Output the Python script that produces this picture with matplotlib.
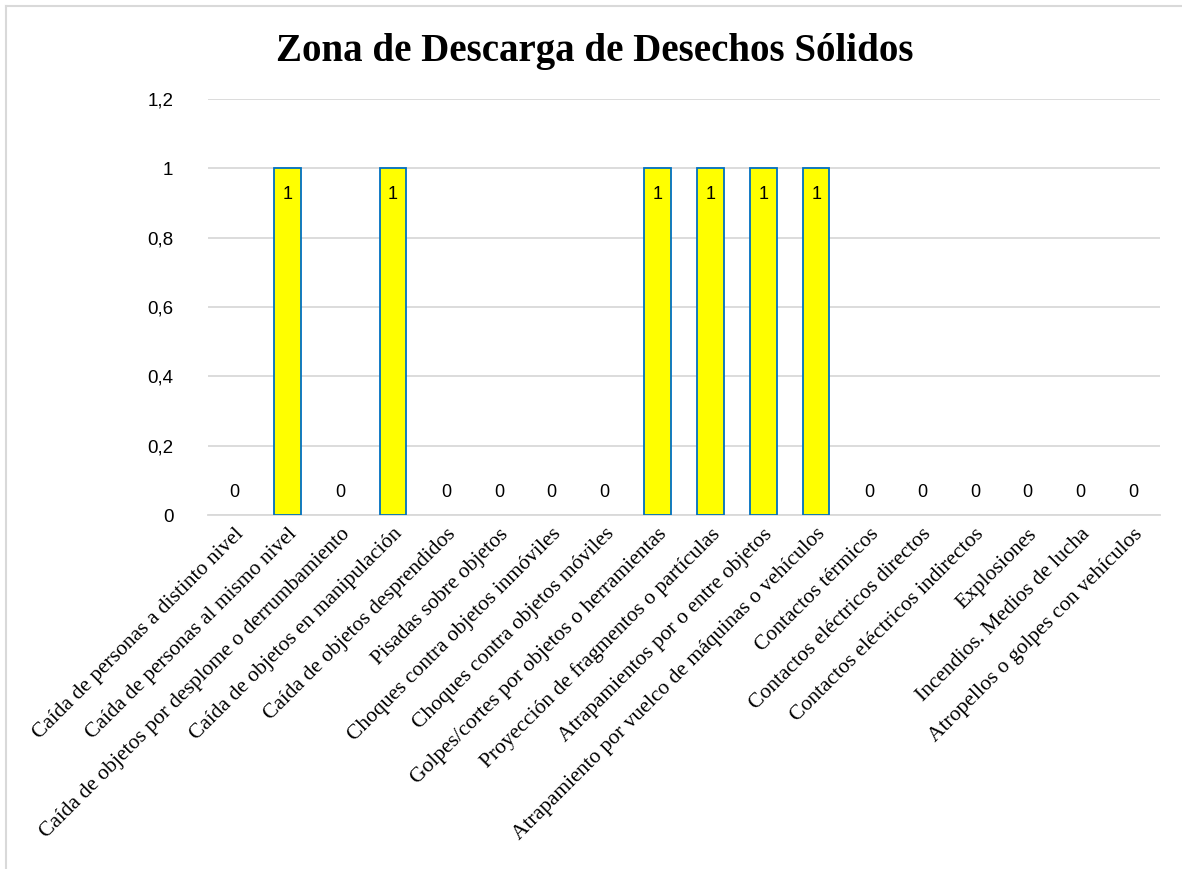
import matplotlib
matplotlib.use("Agg")
import matplotlib.pyplot as plt

CATS = [
    "Caída de personas a distinto nivel",
    "Caída de personas al mismo nivel",
    "Caída de objetos por desplome o derrumbamiento",
    "Caída de objetos en manipulación",
    "Caída de objetos desprendidos",
    "Pisadas sobre objetos",
    "Choques contra objetos inmóviles",
    "Choques contra objetos móviles",
    "Golpes/cortes por objetos o herramientas",
    "Proyección de fragmentos o partículas",
    "Atrapamientos por o entre objetos",
    "Atrapamiento por vuelco de máquinas o vehículos",
    "Contactos térmicos",
    "Contactos eléctricos directos",
    "Contactos eléctricos indirectos",
    "Explosiones",
    "Incendios. Medios de lucha",
    "Atropellos o golpes con vehículos",
]
VALS = [0, 1, 0, 1, 0, 0, 0, 0, 1, 1, 1, 1, 0, 0, 0, 0, 0, 0]
YTICKS = [0, 0.2, 0.4, 0.6, 0.8, 1, 1.2]
YLBL = ["0", "0,2", "0,4", "0,6", "0,8", "1", "1,2"]

fig = plt.figure(figsize=(11.82, 8.69), dpi=100)
ax = fig.add_axes([208 / 1182, 1 - 515 / 869, 952 / 1182, 416 / 869])

x = range(len(CATS))
lw = [1.3 if v > 0 else 0 for v in VALS]
ax.bar(x, VALS, width=0.5, color="#FFFF00", edgecolor="#0070C0",
       linewidth=lw, zorder=3)
for i, v in enumerate(VALS):
    if v > 0:
        ax.text(i, v - 0.075, "1", ha="center", va="center", fontsize=13,
                family="Liberation Sans", zorder=4)
    else:
        ax.text(i, 0.065, "0", ha="center", va="center", fontsize=13,
                family="Liberation Sans", zorder=4)

ax.set_xlim(-0.5, len(CATS) - 0.5)
ax.set_ylim(0, 1.2)
ax.set_yticks(YTICKS)
ax.set_yticklabels(YLBL, family="Liberation Sans", fontsize=13.5)
ax.yaxis.grid(True, color="#d9d9d9", linewidth=1.3, zorder=0)
ax.set_xticks(list(x))
ax.set_xticklabels(CATS, rotation=45, ha="right", rotation_mode="anchor",
                   family="Liberation Serif", fontsize=15.5)
ax.tick_params(axis="both", length=0)
ax.tick_params(axis="y", pad=25)
ax.tick_params(axis="x", pad=7)
for s in ["top", "right", "left"]:
    ax.spines[s].set_visible(False)
ax.spines["bottom"].set_color("#d9d9d9")
ax.spines["bottom"].set_linewidth(1.3)

fig.text(595 / 1182, 1 - 51 / 869, "Zona de Descarga de Desechos Sólidos",
         ha="center", va="center", family="Liberation Serif",
         fontweight="bold", fontsize=28)

# chart frame (top and left edges visible in the source)
fig.add_artist(plt.Line2D([6 / 1182, 1], [1 - 6 / 869, 1 - 6 / 869],
                          transform=fig.transFigure, color="#d9d9d9", lw=1.5))
fig.add_artist(plt.Line2D([6 / 1182, 6 / 1182], [0, 1 - 6 / 869],
                          transform=fig.transFigure, color="#d9d9d9", lw=1.5))

fig.savefig("out.png", dpi=100, facecolor="white")
